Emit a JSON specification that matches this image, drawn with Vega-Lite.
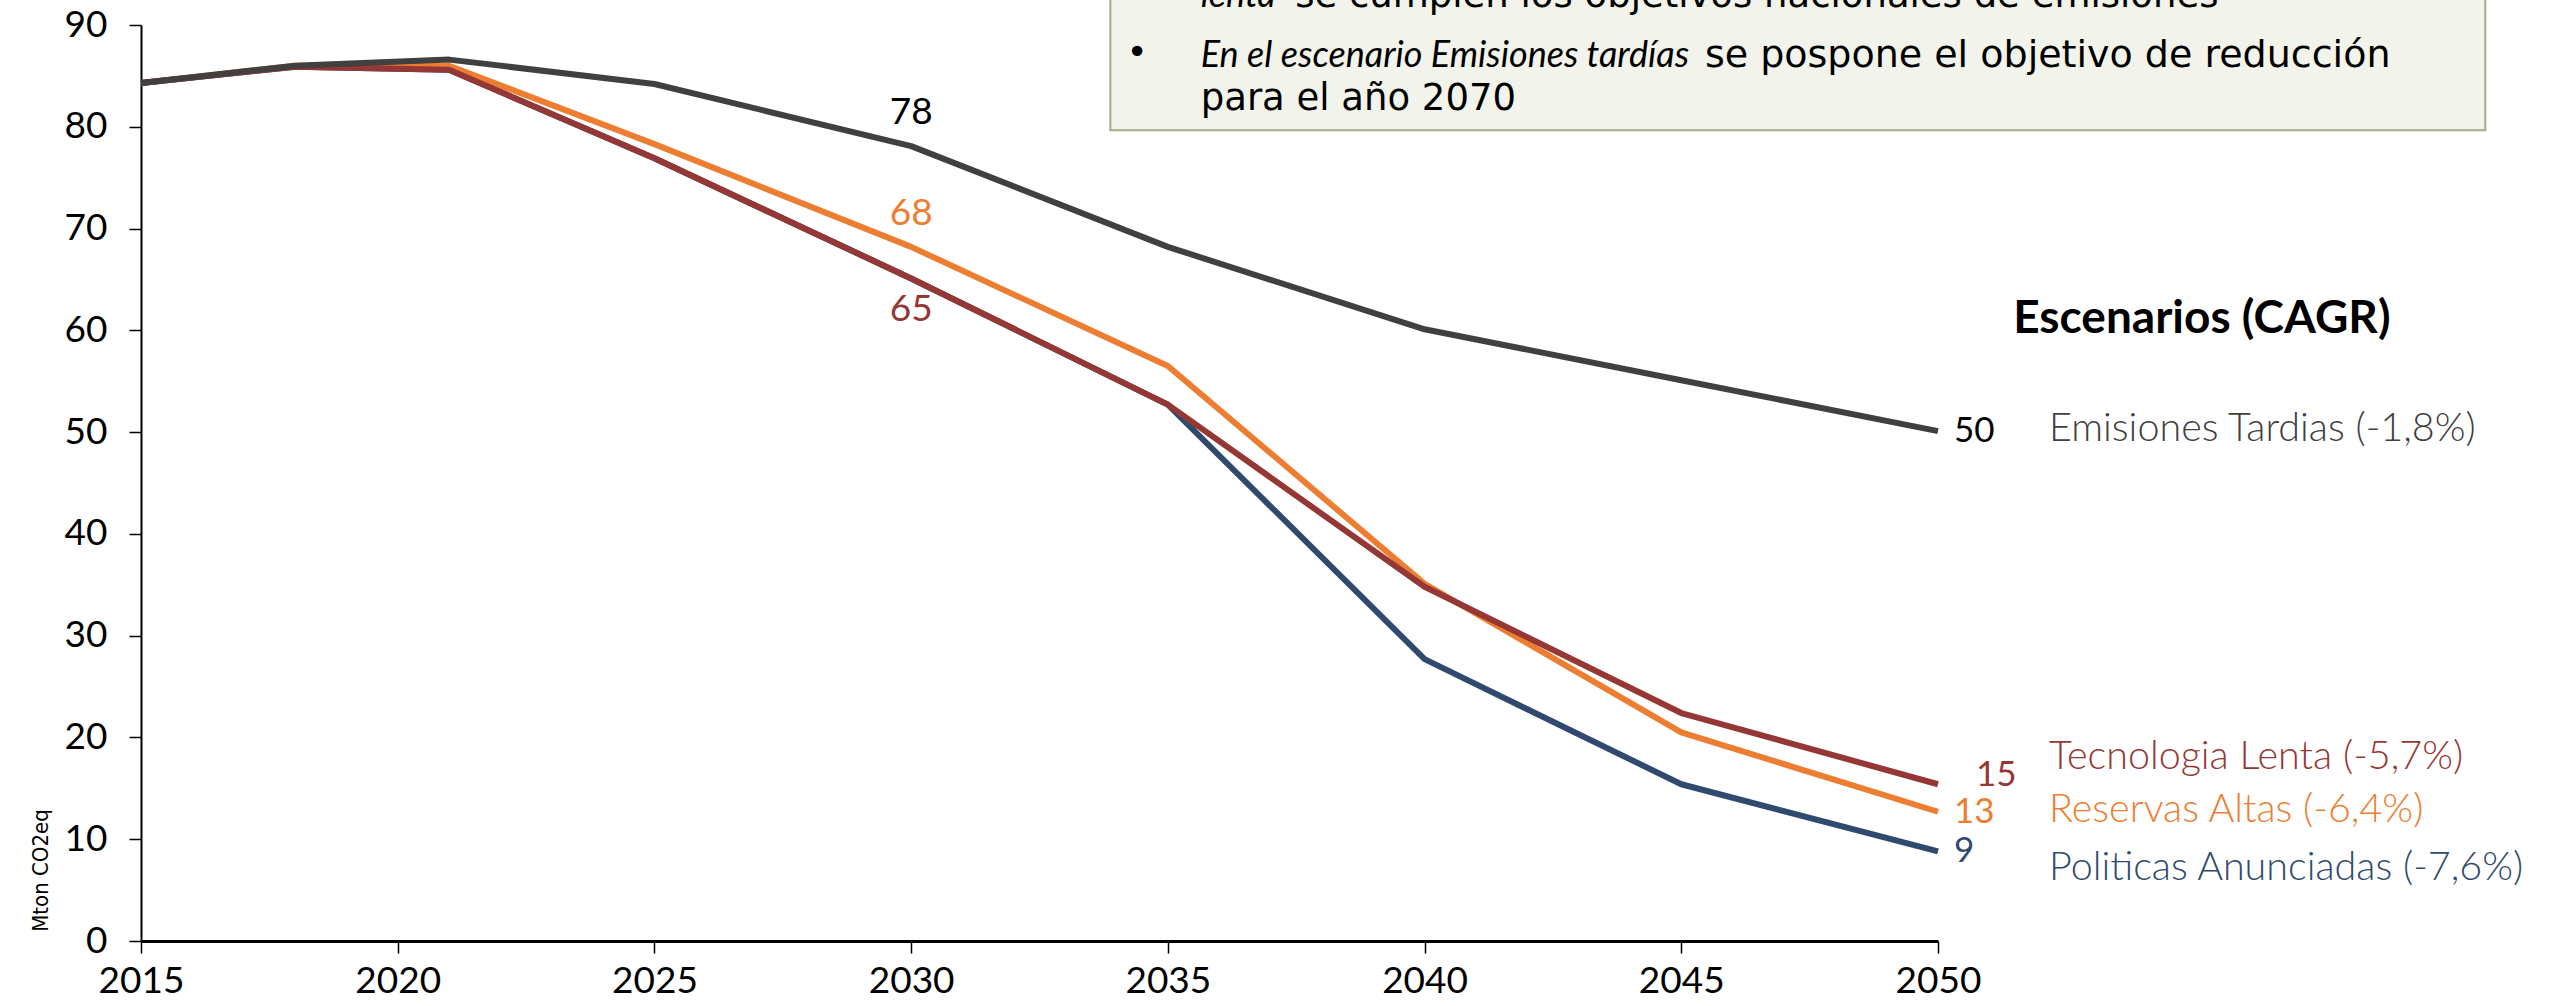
{
  "$schema": "https://vega.github.io/schema/vega-lite/v6.json",
  "autosize": {"type": "none"},
  "width": 1797,
  "height": 916,
  "padding": {"left": 141, "top": 25, "right": 616, "bottom": 65},
  "background": "white",
  "config": {
    "view": {"stroke": null},
    "font": "Lato",
    "text": {"font": "Lato", "fontSize": 36}
  },
  "datasets": {
    "emis": [
      {"series": "Politicas Anunciadas", "year": 2015, "value": 84.3},
      {"series": "Politicas Anunciadas", "year": 2018, "value": 85.9},
      {"series": "Politicas Anunciadas", "year": 2021, "value": 85.6},
      {"series": "Politicas Anunciadas", "year": 2025, "value": 76.9},
      {"series": "Politicas Anunciadas", "year": 2030, "value": 65.1},
      {"series": "Politicas Anunciadas", "year": 2035, "value": 52.7},
      {"series": "Politicas Anunciadas", "year": 2040, "value": 27.7},
      {"series": "Politicas Anunciadas", "year": 2045, "value": 15.4},
      {"series": "Politicas Anunciadas", "year": 2050, "value": 8.8},
      {"series": "Reservas Altas", "year": 2015, "value": 84.3},
      {"series": "Reservas Altas", "year": 2018, "value": 86.0},
      {"series": "Reservas Altas", "year": 2021, "value": 86.0},
      {"series": "Reservas Altas", "year": 2025, "value": 78.3},
      {"series": "Reservas Altas", "year": 2030, "value": 68.2},
      {"series": "Reservas Altas", "year": 2035, "value": 56.5},
      {"series": "Reservas Altas", "year": 2040, "value": 35.1},
      {"series": "Reservas Altas", "year": 2045, "value": 20.5},
      {"series": "Reservas Altas", "year": 2050, "value": 12.7},
      {"series": "Tecnologia Lenta", "year": 2015, "value": 84.3},
      {"series": "Tecnologia Lenta", "year": 2018, "value": 85.9},
      {"series": "Tecnologia Lenta", "year": 2021, "value": 85.6},
      {"series": "Tecnologia Lenta", "year": 2025, "value": 76.9},
      {"series": "Tecnologia Lenta", "year": 2030, "value": 65.1},
      {"series": "Tecnologia Lenta", "year": 2035, "value": 52.7},
      {"series": "Tecnologia Lenta", "year": 2040, "value": 34.8},
      {"series": "Tecnologia Lenta", "year": 2045, "value": 22.4},
      {"series": "Tecnologia Lenta", "year": 2050, "value": 15.4},
      {"series": "Emisiones Tardias", "year": 2015, "value": 84.3},
      {"series": "Emisiones Tardias", "year": 2018, "value": 86.0},
      {"series": "Emisiones Tardias", "year": 2021, "value": 86.6},
      {"series": "Emisiones Tardias", "year": 2025, "value": 84.2},
      {"series": "Emisiones Tardias", "year": 2030, "value": 78.1},
      {"series": "Emisiones Tardias", "year": 2035, "value": 68.2},
      {"series": "Emisiones Tardias", "year": 2040, "value": 60.1},
      {"series": "Emisiones Tardias", "year": 2045, "value": 55.1},
      {"series": "Emisiones Tardias", "year": 2050, "value": 50.1}
    ],
    "series": [
      {"series": "Emisiones Tardias", "label": "Emisiones Tardias (-1,8%)"},
      {"series": "Tecnologia Lenta", "label": "Tecnologia Lenta (-5,7%)"},
      {"series": "Reservas Altas", "label": "Reservas Altas (-6,4%)"},
      {"series": "Politicas Anunciadas", "label": "Politicas Anunciadas (-7,6%)"}
    ]
  },
  "encoding": {
    "x": {
      "type": "quantitative",
      "scale": {"domain": [2015, 2050], "nice": false, "zero": false},
      "axis": {
        "values": [2015, 2020, 2025, 2030, 2035, 2040, 2045, 2050],
        "format": "d",
        "title": null,
        "grid": false,
        "labelFlush": false,
        "labelOverlap": false,
        "labelFont": "Lato",
        "labelFontSize": 37,
        "labelColor": "#000000",
        "labelPadding": 10,
        "tickSize": 12,
        "tickColor": "#000000",
        "tickWidth": 1.5,
        "domainColor": "#000000",
        "domainWidth": 3
      }
    },
    "y": {
      "type": "quantitative",
      "scale": {"domain": [0, 90], "nice": false, "zero": true},
      "axis": {
        "values": [0, 10, 20, 30, 40, 50, 60, 70, 80, 90],
        "title": "Mton CO2eq",
        "titleFont": "DejaVu Sans Condensed, Liberation Sans Narrow, sans-serif",
        "titleFontSize": 22,
        "titleFontWeight": "normal",
        "titleColor": "#000000",
        "titleAngle": -90,
        "titleAlign": "center",
        "titleBaseline": "middle",
        "titleX": -101,
        "titleY": 845,
        "grid": false,
        "labelFlush": false,
        "labelOverlap": false,
        "labelFont": "Lato",
        "labelFontSize": 37,
        "labelColor": "#000000",
        "labelPadding": 22,
        "tickSize": 12,
        "tickColor": "#000000",
        "tickWidth": 1.5,
        "domainColor": "#000000",
        "domainWidth": 2
      }
    }
  },
  "layer": [
    {
      "data": {"values": [{}]},
      "mark": {"type": "rect", "fill": "#8E9670", "xOffset": 3, "yOffset": 3},
      "encoding": {
        "x": {"datum": 2033.88},
        "x2": {"datum": 2060.66},
        "y": {"datum": 100},
        "y2": {"datum": 79.66}
      }
    },
    {
      "data": {"values": [{}]},
      "mark": {"type": "rect", "fill": "#F2F3EA", "stroke": "#A3AB86", "strokeWidth": 2},
      "encoding": {
        "x": {"datum": 2033.88},
        "x2": {"datum": 2060.66},
        "y": {"datum": 100},
        "y2": {"datum": 79.66}
      }
    },
    {
      "data": {"values": [{}]},
      "mark": {"type": "text", "text": "lenta", "fontStyle": "italic", "align": "left", "baseline": "alphabetic", "color": "#000000", "fontSize": 36},
      "encoding": {"x": {"datum": 2035.64}, "y": {"datum": 91.77}}
    },
    {
      "data": {"values": [{}]},
      "mark": {"type": "text", "text": "se cumplen los objetivos nacionales de emisiones", "font": "DejaVu Sans", "align": "left", "baseline": "alphabetic", "color": "#000000", "fontSize": 37},
      "encoding": {"x": {"datum": 2037.48}, "y": {"datum": 91.77}}
    },
    {
      "data": {"values": [{}]},
      "mark": {"type": "text", "text": "•", "font": "DejaVu Sans", "align": "center", "baseline": "middle", "color": "#000000", "fontSize": 36},
      "encoding": {"x": {"datum": 2034.40}, "y": {"datum": 87.25}}
    },
    {
      "data": {"values": [{}]},
      "mark": {"type": "text", "text": "En el escenario Emisiones tardías", "fontStyle": "italic", "align": "left", "baseline": "alphabetic", "color": "#000000", "fontSize": 36},
      "encoding": {"x": {"datum": 2035.64}, "y": {"datum": 85.87}}
    },
    {
      "data": {"values": [{}]},
      "mark": {"type": "text", "text": "se pospone el objetivo de reducción", "font": "DejaVu Sans", "align": "left", "baseline": "alphabetic", "color": "#000000", "fontSize": 38},
      "encoding": {"x": {"datum": 2045.46}, "y": {"datum": 85.87}}
    },
    {
      "data": {"values": [{}]},
      "mark": {"type": "text", "text": "para el año 2070", "font": "DejaVu Sans", "align": "left", "baseline": "alphabetic", "color": "#000000", "fontSize": 37},
      "encoding": {"x": {"datum": 2035.64}, "y": {"datum": 81.65}}
    },
    {
      "data": {"name": "emis"},
      "mark": {"type": "line", "strokeWidth": 6, "strokeJoin": "round", "strokeCap": "butt"},
      "encoding": {
        "x": {"field": "year", "type": "quantitative"},
        "y": {"field": "value", "type": "quantitative"},
        "color": {
          "field": "series", "type": "nominal",
          "scale": {"domain": ["Politicas Anunciadas", "Reservas Altas", "Tecnologia Lenta", "Emisiones Tardias"], "range": ["#2F4A6E", "#ED7D31", "#953735", "#404040"]},
          "legend": null
        },
        "order": {"field": "year", "type": "quantitative"}
      }
    },
    {
      "data": {"name": "emis"},
      "transform": [{"filter": "datum.year === 2030 && (datum.series === 'Emisiones Tardias' || datum.series === 'Reservas Altas')"}],
      "mark": {"type": "text", "align": "center", "baseline": "middle", "dy": -33, "fontSize": 37},
      "encoding": {
        "x": {"field": "year", "type": "quantitative"},
        "y": {"field": "value", "type": "quantitative"},
        "text": {"field": "value", "type": "quantitative", "format": ".0f"},
        "color": {"condition": {"test": "datum.series === 'Emisiones Tardias'", "value": "#000000"}, "field": "series", "type": "nominal", "legend": null}
      }
    },
    {
      "data": {"name": "emis"},
      "transform": [{"filter": "datum.year === 2030 && datum.series === 'Tecnologia Lenta'"}],
      "mark": {"type": "text", "align": "center", "baseline": "middle", "dy": 32, "fontSize": 37},
      "encoding": {
        "x": {"field": "year", "type": "quantitative"},
        "y": {"field": "value", "type": "quantitative"},
        "text": {"field": "value", "type": "quantitative", "format": ".0f"},
        "color": {"field": "series", "type": "nominal", "legend": null}
      }
    },
    {
      "data": {"name": "emis"},
      "transform": [{"filter": "datum.year === 2050 && datum.series !== 'Tecnologia Lenta'"}],
      "mark": {"type": "text", "align": "left", "baseline": "middle", "dx": 16, "fontSize": 35},
      "encoding": {
        "x": {"field": "year", "type": "quantitative"},
        "y": {"field": "value", "type": "quantitative"},
        "text": {"field": "value", "type": "quantitative", "format": ".0f"},
        "color": {"condition": {"test": "datum.series === 'Emisiones Tardias'", "value": "#000000"}, "field": "series", "type": "nominal", "legend": null}
      }
    },
    {
      "data": {"name": "emis"},
      "transform": [{"filter": "datum.year === 2050 && datum.series === 'Tecnologia Lenta'"}],
      "mark": {"type": "text", "align": "left", "baseline": "middle", "dx": 38, "dy": -9, "fontSize": 35},
      "encoding": {
        "x": {"field": "year", "type": "quantitative"},
        "y": {"field": "value", "type": "quantitative"},
        "text": {"field": "value", "type": "quantitative", "format": ".0f"},
        "color": {"field": "series", "type": "nominal", "legend": null}
      }
    },
    {
      "data": {"name": "emis"},
      "transform": [
        {"filter": "datum.year === 2050 && (datum.series === 'Emisiones Tardias' || datum.series === 'Reservas Altas')"},
        {"lookup": "series", "from": {"data": {"name": "series"}, "key": "series", "fields": ["label"]}}
      ],
      "mark": {"type": "text", "align": "left", "baseline": "middle", "dx": 111, "dy": -2, "fontSize": 39.5, "fontWeight": 300},
      "encoding": {
        "x": {"field": "year", "type": "quantitative"},
        "y": {"field": "value", "type": "quantitative"},
        "text": {"field": "label", "type": "nominal"},
        "color": {"field": "series", "type": "nominal", "legend": null}
      }
    },
    {
      "data": {"name": "emis"},
      "transform": [
        {"filter": "datum.year === 2050 && datum.series === 'Tecnologia Lenta'"},
        {"lookup": "series", "from": {"data": {"name": "series"}, "key": "series", "fields": ["label"]}}
      ],
      "mark": {"type": "text", "align": "left", "baseline": "middle", "dx": 111, "dy": -27, "fontSize": 39.5, "fontWeight": 300},
      "encoding": {
        "x": {"field": "year", "type": "quantitative"},
        "y": {"field": "value", "type": "quantitative"},
        "text": {"field": "label", "type": "nominal"},
        "color": {"field": "series", "type": "nominal", "legend": null}
      }
    },
    {
      "data": {"name": "emis"},
      "transform": [
        {"filter": "datum.year === 2050 && datum.series === 'Politicas Anunciadas'"},
        {"lookup": "series", "from": {"data": {"name": "series"}, "key": "series", "fields": ["label"]}}
      ],
      "mark": {"type": "text", "align": "left", "baseline": "middle", "dx": 111, "dy": 17, "fontSize": 39.5, "fontWeight": 300},
      "encoding": {
        "x": {"field": "year", "type": "quantitative"},
        "y": {"field": "value", "type": "quantitative"},
        "text": {"field": "label", "type": "nominal"},
        "color": {"field": "series", "type": "nominal", "legend": null}
      }
    },
    {
      "data": {"values": [{}]},
      "mark": {"type": "text", "text": "Escenarios (CAGR)", "fontWeight": "bold", "align": "center", "baseline": "middle", "color": "#000000", "fontSize": 46},
      "encoding": {"x": {"datum": 2055.14}, "y": {"datum": 61.1}}
    }
  ]
}
